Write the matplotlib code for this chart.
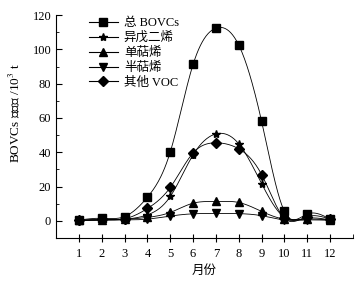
import numpy as np
import matplotlib
matplotlib.use("Agg")
import matplotlib.pyplot as plt
from matplotlib.ticker import FixedLocator

plt.rcParams['font.family'] = ['Liberation Serif', 'Noto Sans CJK SC']
plt.rcParams['mathtext.fontset'] = 'stix'

months = [1, 2, 3, 4, 5, 6, 7, 8, 9, 10, 11, 12]
total = [0.5, 1.5, 2.5, 13.8, 40.2, 91.3, 112.4, 102.5, 58.0, 5.5, 4.0, 1.0]
isoprene = [0.2, 0.6, 1.0, 3.5, 14.2, 38.5, 50.7, 44.9, 21.7, 2.0, 1.5, 0.5]
mono = [0.3, 0.6, 0.9, 2.0, 4.9, 10.3, 11.3, 10.7, 5.5, 1.0, 1.0, 0.5]
sesqui = [0.1, 0.3, 0.5, 1.0, 2.8, 4.1, 4.3, 4.2, 3.0, 0.5, 0.5, 0.3]
other = [0.4, 0.8, 1.2, 7.2, 19.5, 39.6, 45.5, 42.0, 27.0, 1.5, 2.5, 1.0]

labels = ['总 BOVCs', '异戊二烯', '单萜烯', '半萜烯', '其他 VOC']
markers = ['s', '*', '^', 'v', 'D']
msizes = [6, 6, 6, 6, 5.5]
series = [total, isoprene, mono, sesqui, other]


def natural_spline(x, y, xs):
    x = np.asarray(x, float)
    y = np.asarray(y, float)
    n = len(x)
    h = np.diff(x)
    A = np.zeros((n, n))
    b = np.zeros(n)
    A[0, 0] = 1
    A[-1, -1] = 1
    for i in range(1, n - 1):
        A[i, i - 1] = h[i - 1]
        A[i, i] = 2 * (h[i - 1] + h[i])
        A[i, i + 1] = h[i]
        b[i] = 3 * ((y[i + 1] - y[i]) / h[i] - (y[i] - y[i - 1]) / h[i - 1])
    c = np.linalg.solve(A, b)
    out = np.empty_like(xs)
    for k, xv in enumerate(xs):
        i = min(max(np.searchsorted(x, xv) - 1, 0), n - 2)
        dx = xv - x[i]
        bi = (y[i + 1] - y[i]) / h[i] - h[i] * (2 * c[i] + c[i + 1]) / 3
        di = (c[i + 1] - c[i]) / (3 * h[i])
        out[k] = y[i] + bi * dx + c[i] * dx ** 2 + di * dx ** 3
    return out


fig = plt.figure(figsize=(3.62, 2.85), dpi=100)
ax = fig.add_axes([0.155, 0.165, 0.82, 0.782])

xs = np.linspace(1, 12, 400)
for s, lab, m, ms in zip(series, labels, markers, msizes):
    ax.plot(xs, natural_spline(months, s, xs), color='black', lw=0.6)
    ax.plot(months, s, linestyle='none', marker=m, color='black', ms=ms)
    ax.plot([], [], color='black', lw=0.8, marker=m, ms=ms, label=lab)

ax.set_xlim(0, 13)
ax.set_ylim(-10, 120)
ax.spines['top'].set_visible(False)
ax.spines['right'].set_visible(False)
ax.set_xticks(months)
ax.xaxis.set_minor_locator(FixedLocator([13]))
ax.yaxis.set_major_locator(FixedLocator([0, 20, 40, 60, 80, 100, 120]))
ax.yaxis.set_minor_locator(FixedLocator([10, 30, 50, 70, 90, 110]))
ax.tick_params(axis='y', which='major', direction='in', length=4, labelsize=9)
ax.tick_params(axis='y', which='minor', direction='in', length=2)
ax.tick_params(axis='x', which='major', direction='inout', length=6, labelsize=9, pad=4)
ax.tick_params(axis='x', which='minor', direction='in', length=3)

ax.set_xlabel('月份', fontsize=9, labelpad=4)
ax.set_ylabel('BOVCs 排放量 /10$^3$ t', fontsize=9.5)
ax.yaxis.set_label_coords(-0.115, 0.56)

ax.legend(loc='upper left', bbox_to_anchor=(0.085, 1.025), frameon=False,
          fontsize=9, handlelength=2.3, handletextpad=0.5,
          labelspacing=0.22, borderaxespad=0.2)

fig.savefig('out.png', dpi=100)
